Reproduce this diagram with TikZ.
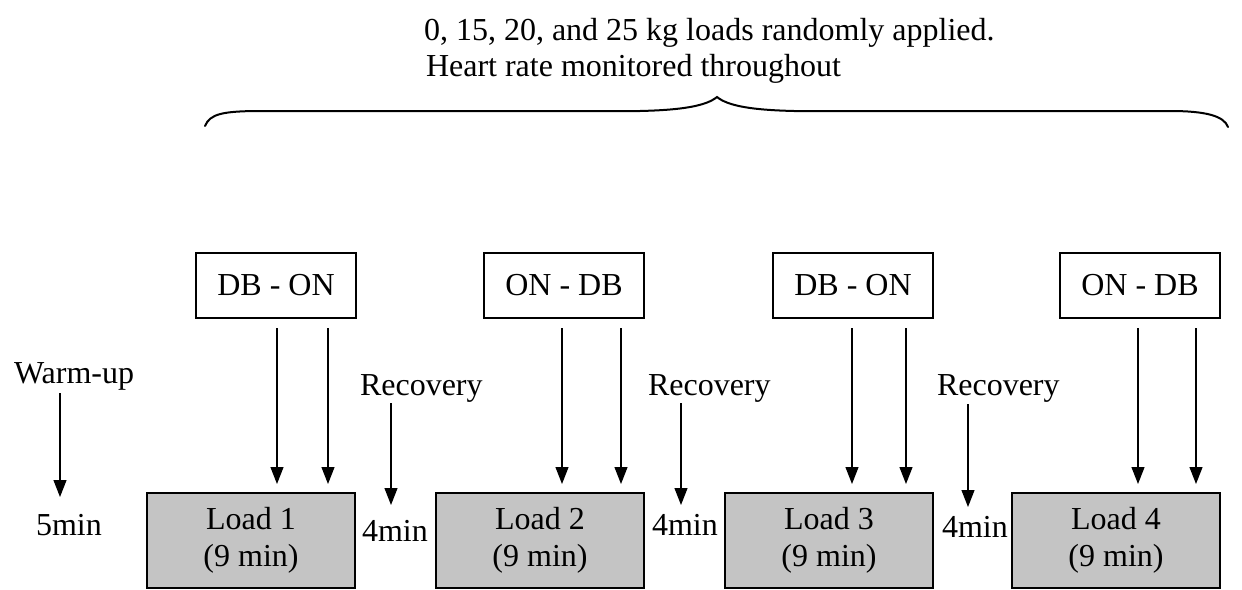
\documentclass[tikz,border=0pt]{standalone}
\usepackage{fontspec}
\setmainfont{Liberation Serif}
\usetikzlibrary{arrows.meta,calc}

\tikzset{
  txt/.style={inner sep=0pt, outer sep=0pt, font=\fontsize{16}{18.5}\selectfont},
  orderbox/.style={draw, line width=0.75pt, minimum width=80pt, minimum height=32.5pt,
    inner sep=0pt, outer sep=0pt, anchor=north west, font=\fontsize{16}{18.5}\selectfont},
  loadbox/.style={draw, line width=0.75pt, fill=black!23, minimum width=104pt, minimum height=47.5pt,
    inner sep=0pt, outer sep=0pt, anchor=north west, align=center, font=\fontsize{16}{18.5}\selectfont},
  arr/.style={line width=0.6pt, -{Triangle[length=8.5pt,width=6.5pt]}},
  bracepath/.style={line width=1pt, line cap=round}
}

\begin{document}
\begin{tikzpicture}[x=0.5pt, y=-0.5pt]
  \useasboundingbox (0,0) rectangle (1242,589);

  % heading
  \node[txt, anchor=base west] (h1) at (424,40) {0, 15, 20, and 25 kg loads randomly applied.};
  \node[txt, anchor=base west] (h2) at (426,76) {Heart rate monitored throughout};

  % curly brace spanning the four loads
  \draw[bracepath] (205,126) .. controls (210,114) and (222,111) .. (262,111)
    -- (640,111) .. controls (682,110) and (706,106) .. (717,97)
    .. controls (728,106) and (752,110) .. (794,111)
    -- (1170,111) .. controls (1206,111) and (1224,116) .. (1228,127);

  % order boxes
  \node[orderbox] (t1) at (196,253) {DB - ON};
  \node[orderbox] (t2) at (484,253) {ON - DB};
  \node[orderbox] (t3) at (773,253) {DB - ON};
  \node[orderbox] (t4) at (1060,253) {ON - DB};

  % load boxes
  \node[loadbox] (l1) at (147,493) {Load 1\\(9 min)};
  \node[loadbox] (l2) at (436,493) {Load 2\\(9 min)};
  \node[loadbox] (l3) at (725,493) {Load 3\\(9 min)};
  \node[loadbox] (l4) at (1012,493) {Load 4\\(9 min)};

  % paired arrows from each order box to its load
  \foreach \i/\a/\b in {1/81/132, 2/78/137, 3/79/133, 4/78/136} {
    \draw[arr] ($(t\i.south west)+(\a,10)$) -- ($(t\i.south west |- l\i.north)+(\a,-9)$);
    \draw[arr] ($(t\i.south west)+(\b,10)$) -- ($(t\i.south west |- l\i.north)+(\b,-9)$);
  }

  % warm-up
  \node[txt, anchor=base west] (wu) at (14,383) {Warm-up};
  \node[txt, anchor=base west] (m5) at (36,535) {5min};
  \coordinate (wa) at (60,393);
  \coordinate (wb) at (60,497);
  \draw[arr] (wa) -- (wb);

  % recovery periods
  \node[txt, anchor=base west] (r1) at (360,395) {Recovery};
  \node[txt, anchor=base west] (r2) at (648,395) {Recovery};
  \node[txt, anchor=base west] (r3) at (937,395) {Recovery};
  \node[txt, anchor=base west] (m4a) at (362,541) {4min};
  \node[txt, anchor=base west] (m4b) at (652,535) {4min};
  \node[txt, anchor=base west] (m4c) at (942,537) {4min};
  \coordinate (ra1) at (391,403); \coordinate (rb1) at (391,505);
  \coordinate (ra2) at (681,403); \coordinate (rb2) at (681,505);
  \coordinate (ra3) at (968,404); \coordinate (rb3) at (968,507);
  \draw[arr] (ra1) -- (rb1);
  \draw[arr] (ra2) -- (rb2);
  \draw[arr] (ra3) -- (rb3);
\end{tikzpicture}
\end{document}
